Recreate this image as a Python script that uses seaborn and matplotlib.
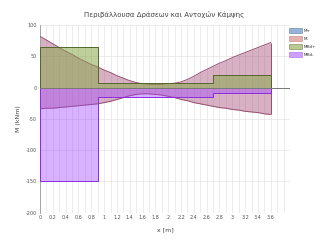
import numpy as np
import pandas as pd
import seaborn as sns
import matplotlib.pyplot as plt
from matplotlib.patches import Patch

# envelope of design moments (kNm) at 0.1 m steps
x_vals = [round(0.1 * i, 1) for i in range(37)]
m_upper = [82, 76, 70, 64, 58, 53, 47, 42, 37, 33, 28, 24, 19, 15, 11, 8, 6, 5, 5,
           5, 6, 7, 9, 13, 18, 24, 29, 34, 39, 43, 48, 52, 56, 60, 64, 68, 72]
m_lower = [-34, -33, -33, -32, -31, -30, -29, -28, -27, -26, -24, -22, -19, -16, -13,
           -11, -10, -10, -11, -12, -14, -16, -19, -21, -24, -26, -28, -30, -32, -33,
           -35, -36, -38, -39, -40, -42, -43]

# resistances, piecewise constant
rd_x = [0, 0.9, 2.7, 3.6]
mrd_pos = [65, 8, 20, 20]
mrd_neg = [-150, -15, -8, -8]

labels = ['M+', 'M-', 'MRd+', 'MRd-']
title = 'Περιβάλλουσα Δράσεων και Αντοχών Κάμψης'

df = pd.DataFrame({'x': x_vals, 'upper': m_upper, 'lower': m_lower})

sns.set_theme(style="whitegrid")
plt.rcParams['font.family'] = ['DejaVu Sans']

fig = plt.figure(figsize=(3.28, 2.43), dpi=100)
ax = fig.add_axes([0.122, 0.125, 0.762, 0.772])

env_col = '#a8507e'
ax.fill_between(df['x'], df['lower'], df['upper'], color=env_col, alpha=0.45, lw=0, zorder=2)
sns.lineplot(data=df, x='x', y='upper', color='#94506f', lw=0.7, ax=ax, zorder=3)
sns.lineplot(data=df, x='x', y='lower', color='#94506f', lw=0.7, ax=ax, zorder=3)
ax.vlines(3.6, m_lower[-1], m_upper[-1], color='#94506f', lw=0.7, zorder=3)

ax.fill_between(rd_x, 0, mrd_pos, step='post', color='#8aa84a', alpha=0.55, lw=0, zorder=4)
ax.step(rd_x, mrd_pos, where='post', color='#55652c', lw=0.7, zorder=5)
ax.vlines([0, 3.6], 0, [mrd_pos[0], mrd_pos[-1]], color='#55652c', lw=0.7, zorder=5)

ax.fill_between(rd_x, 0, mrd_neg, step='post', color='#a040ff', alpha=0.4, lw=0, zorder=4)
ax.step(rd_x, mrd_neg, where='post', color='#8a2be2', lw=0.7, zorder=5)
ax.vlines([0, 3.6], 0, [mrd_neg[0], mrd_neg[-1]], color='#8a2be2', lw=0.7, zorder=5)

ax.axhline(0, color='#777777', lw=0.7, zorder=6)

ax.set_xlim(0, 3.9)
ax.set_ylim(-200, 100)
ax.set_yticks(np.arange(-200, 101, 50))
ax.set_yticklabels([str(v) for v in range(-200, 101, 50)], fontsize=3.5, color='#555555')
xt = [round(0.2 * i, 1) for i in range(19)]
ax.set_xticks(xt)
ax.set_xticklabels([f'{v:g}' for v in xt], fontsize=3.5, color='#555555')
ax.set_xticks([round(0.1 * i, 1) for i in range(40)], minor=True)
ax.grid(True, which='both', axis='x', color='#e4e4e4', lw=0.5)
ax.grid(True, which='major', axis='y', color='#e4e4e4', lw=0.5)
ax.tick_params(axis='both', which='both', length=0, pad=2)
for s in ['top', 'right', 'bottom']:
    ax.spines[s].set_visible(False)
ax.spines['left'].set_color('#999999')
ax.spines['left'].set_linewidth(0.6)

ax.set_xlabel('x [m]', fontsize=4.5, color='#444444', labelpad=5)
ax.set_ylabel('M (kNm)', fontsize=4.5, color='#444444', labelpad=4)
fig.suptitle(title, fontsize=5, color='#444444', y=0.955)

handles = [Patch(facecolor='#4f81bd', edgecolor='#3a6190', alpha=0.6, lw=0.5),
           Patch(facecolor='#c0504d', edgecolor='#a03c3a', alpha=0.45, lw=0.5),
           Patch(facecolor='#8aa84a', edgecolor='#55652c', alpha=0.6, lw=0.5),
           Patch(facecolor='#a040ff', edgecolor='#8a2be2', alpha=0.5, lw=0.5)]
fig.legend(handles, labels, loc='upper left', bbox_to_anchor=(0.87, 0.9), frameon=False,
           fontsize=3, handlelength=3, handleheight=1.3, labelspacing=0.8, handletextpad=0.5)

fig.savefig('out.png', dpi=100)
